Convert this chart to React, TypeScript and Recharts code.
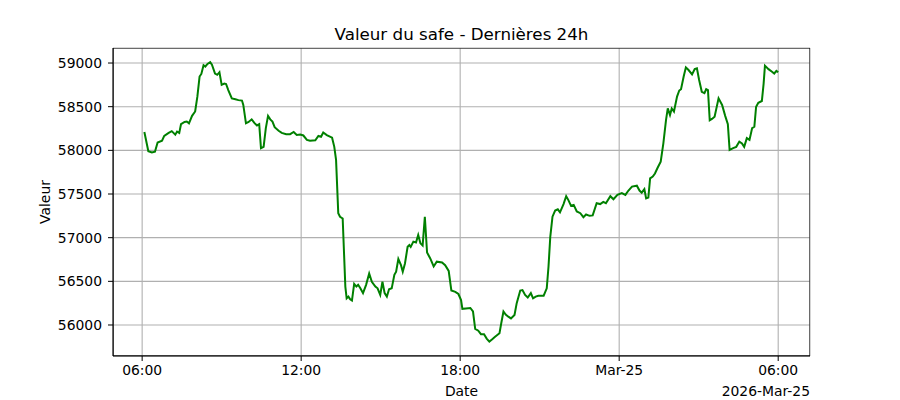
import {
  CartesianGrid,
  Label,
  Line,
  LineChart,
  ReferenceArea,
  XAxis,
  YAxis,
} from "recharts";

// minutes after 06:00 (Mar 24) and safe value at that time
const minutes = [
  5, 14, 22, 29, 35, 45, 50, 60, 67, 75, 79, 84, 88, 96, 101, 106, 113, 120, 125, 130,
  134, 139, 143, 148, 154, 158, 165, 170, 175, 180, 186, 190, 195, 203, 211, 218, 226, 229, 235, 241,
  248, 254, 260, 265, 269, 275, 280, 285, 290, 295, 300, 309, 316, 326, 335, 343, 350, 358, 365, 373,
  380, 392, 399, 405, 410, 418, 430, 435, 439, 444, 448, 454, 460, 463, 467, 471, 475, 480, 485, 489,
  494, 500, 507, 514, 520, 528, 533, 539, 544, 549, 554, 559, 565, 571, 575, 580, 586, 590, 595, 601,
  605, 608, 614, 620, 625, 630, 635, 640, 645, 652, 660, 667, 679, 686, 694, 700, 709, 716, 722, 725,
  733, 743, 749, 754, 761, 767, 774, 780, 786, 792, 799, 809, 813, 818, 823, 829, 835, 843, 848, 856,
  861, 867, 873, 880, 885, 891, 897, 909, 916, 920, 924, 929, 935, 941, 946, 954, 960, 965, 971, 977,
  984, 992, 999, 1005, 1013, 1020, 1029, 1037, 1044, 1050, 1060, 1067, 1076, 1086, 1094, 1101, 1109, 1120, 1126, 1131,
  1137, 1141, 1146, 1150, 1156, 1161, 1167, 1174, 1180, 1186, 1190, 1195, 1199, 1204, 1211, 1216, 1220, 1226, 1231, 1237,
  1245, 1251, 1256, 1261, 1267, 1273, 1277, 1281, 1285, 1290, 1296, 1305, 1313, 1320, 1326, 1330, 1338, 1345, 1352, 1358,
  1363, 1369, 1375, 1381, 1386, 1390, 1395, 1403, 1407, 1410, 1418, 1426, 1431, 1436, 1440,
];

const values = [
  58210, 57990, 57975, 57985, 58090, 58110, 58165, 58200, 58220, 58180, 58215, 58200, 58300, 58325, 58330, 58310, 58395, 58445, 58615, 58845,
  58875, 58975, 58960, 58990, 59010, 58980, 58880, 58865, 58895, 58750, 58765, 58760, 58690, 58595, 58585, 58575, 58570, 58520, 58310, 58325,
  58355, 58315, 58285, 58300, 58025, 58040, 58255, 58395, 58355, 58330, 58265, 58225, 58200, 58185, 58185, 58210, 58175, 58180, 58170, 58120,
  58110, 58115, 58165, 58155, 58205, 58175, 58145, 58040, 57890, 57280, 57240, 57220, 56440, 56305, 56325, 56295, 56280, 56470, 56440, 56460,
  56420, 56365, 56460, 56590, 56495, 56440, 56420, 56345, 56495, 56365, 56325, 56410, 56420, 56575, 56610, 56755, 56685, 56610, 56705, 56895,
  56915, 56895, 56955, 56945, 57030, 56935, 56910, 57240, 56830, 56765, 56670, 56725, 56715, 56685, 56620, 56395, 56380, 56355, 56285, 56185,
  56190, 56195, 56155, 55955, 55935, 55895, 55895, 55845, 55810, 55835, 55865, 55905, 56020, 56155, 56120, 56095, 56075, 56115, 56250, 56395,
  56400, 56345, 56315, 56365, 56305, 56325, 56335, 56335, 56420, 56670, 57010, 57240, 57310, 57325, 57290, 57385, 57475, 57430, 57365, 57375,
  57300, 57280, 57235, 57265, 57250, 57255, 57395, 57385, 57410, 57395, 57475, 57440, 57490, 57510, 57490, 57540, 57585, 57595, 57540, 57515,
  57555, 57450, 57460, 57680, 57700, 57735, 57800, 57870, 58080, 58345, 58480, 58405, 58480, 58445, 58615, 58685, 58700, 58845, 58950, 58920,
  58870, 58930, 58940, 58805, 58670, 58655, 58700, 58690, 58345, 58360, 58385, 58595, 58520, 58395, 58300, 58005, 58025, 58040, 58100, 58080,
  58040, 58140, 58120, 58255, 58270, 58500, 58545, 58565, 58765, 58970, 58930, 58900, 58880, 58910, 58895,
];

const xTicks = [0, 360, 720, 1080, 1440];
const xTickLabels = ["06:00", "12:00", "18:00", "Mar-25", "06:00"];
const yTicks = [56000, 56500, 57000, 57500, 58000, 58500, 59000];

const data = minutes.map((t, i) => ({ t, v: values[i] }));

const FONT = "'DejaVu Sans', sans-serif";

function XAxisLabels(props: any) {
  const { x, y, width } = props.viewBox;
  return (
    <g fontFamily={FONT} fontSize={13.9} fill="#000">
      <text x={x + width / 2} y={y + 40} textAnchor="middle">
        Date
      </text>
      <text x={x + width} y={y + 40} textAnchor="end">
        2026-Mar-25
      </text>
    </g>
  );
}

export default function App() {
  return (
    <div style={{ position: "absolute", left: 0, top: 0, width: 900, height: 400, background: "#fff" }}>
      <div
        style={{
          position: "absolute",
          left: 113,
          top: 24,
          width: 697,
          textAlign: "center",
          fontFamily: FONT,
          fontSize: 16.7,
          lineHeight: "20px",
          color: "#000",
        }}
      >
        Valeur du safe - Dernières 24h
      </div>
      <LineChart
        width={900}
        height={400}
        data={data}
        margin={{ top: 48, right: 90, bottom: 4, left: 43 }}
      >
        <CartesianGrid stroke="#b0b0b0" strokeWidth={1.1} />
        <XAxis
          dataKey="t"
          type="number"
          domain={[-66, 1512]}
          ticks={xTicks}
          tickFormatter={(v) => xTickLabels[xTicks.indexOf(v)]}
          allowDataOverflow
          height={40}
          tickSize={5}
          tickMargin={4}
          stroke="#000"
          tick={{ fill: "#000", fontSize: 13.9, fontFamily: FONT }}
        >
          <Label content={XAxisLabels} />
        </XAxis>
        <YAxis
          type="number"
          domain={[55645, 59172]}
          ticks={yTicks}
          allowDataOverflow
          width={70}
          tickSize={5}
          tickMargin={6}
          stroke="#000"
          tick={{ fill: "#000", fontSize: 13.9, fontFamily: FONT }}
        >
          <Label
            value="Valeur"
            angle={-90}
            position="insideLeft"
            offset={2}
            style={{ fill: "#000", fontSize: 13.9, fontFamily: FONT, textAnchor: "middle" }}
          />
        </YAxis>
        <ReferenceArea
          x1={-66}
          x2={1512}
          y1={55645}
          y2={59172}
          fill="none"
          stroke="#000"
          strokeWidth={1}
          ifOverflow="hidden"
        />
        <Line
          type="linear"
          dataKey="v"
          stroke="#008000"
          strokeWidth={2}
          dot={false}
          isAnimationActive={false}
        />
      </LineChart>
    </div>
  );
}
